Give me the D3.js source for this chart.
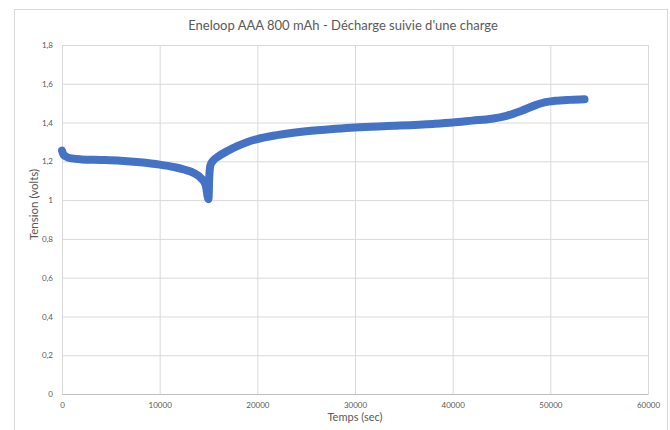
<!DOCTYPE html>
<html>
<head>
<meta charset="utf-8">
<script src="https://cdn.jsdelivr.net/npm/d3@7"></script>
<style>
  body { margin: 0; background: #fff; }
  text { font-family: Lato, 'Open Sans', sans-serif; fill: #595959; }
</style>
</head>
<body>
<svg id="area" width="670" height="430"></svg>
<script>
// temps (sec) / tension (volts)
const temps = [0, 150, 400, 1000, 2000, 4000, 6000, 8000, 10000, 11500, 12500, 13500,
  14200, 14700, 15000, 15080, 15200, 15500, 16000, 17000, 18000, 19000, 20000, 22000,
  25000, 28000, 30000, 34000, 38000, 40000, 42000, 44000, 45500, 47000, 48500, 49500,
  50500, 52000, 53500];
const tension = [1.255, 1.235, 1.225, 1.215, 1.21, 1.207, 1.203, 1.195, 1.183, 1.17, 1.158, 1.14,
  1.115, 1.08, 1.005, 1.12, 1.18, 1.205, 1.225, 1.255, 1.28, 1.3, 1.315, 1.335,
  1.355, 1.368, 1.375, 1.383, 1.393, 1.4, 1.41, 1.42, 1.435, 1.46, 1.49, 1.505,
  1.512, 1.517, 1.52];
const xTicks = [0, 10000, 20000, 30000, 40000, 50000, 60000];
const yTicks = [0, 0.2, 0.4, 0.6, 0.8, 1, 1.2, 1.4, 1.6, 1.8];

const data = temps.map((t, i) => ({ t, v: tension[i] }));

const margin = { top: 45, left: 62, right: 22, bottom: 36 };
const width = 670 - margin.left - margin.right;
const height = 430 - margin.top - margin.bottom;

const svg = d3.select('#area');

// cadre du graphique
svg.append('rect')
  .attr('x', 14.5)
  .attr('y', 9.5)
  .attr('width', 653)
  .attr('height', 440)
  .attr('fill', 'none')
  .attr('stroke', '#d9d9d9');

const x = d3.scaleLinear().domain([0, 60000]).range([margin.left, margin.left + width]);
const y = d3.scaleLinear().domain([0, 1.8]).range([margin.top + height, margin.top]);

const fmt = (d) => d3.format('.1~f')(d).replace('.', ',');

// grille
svg.append('g')
  .attr('class', 'x grid')
  .attr('transform', `translate(0, ${margin.top + height})`)
  .call(d3.axisBottom(x).tickValues(xTicks).tickSize(-height).tickFormat(''))
  .call((g) => g.select('.domain').remove())
  .selectAll('line')
  .attr('stroke', '#d9d9d9');

svg.append('g')
  .attr('class', 'y grid')
  .attr('transform', `translate(${margin.left}, 0)`)
  .call(d3.axisLeft(y).tickValues(yTicks).tickSize(-width).tickFormat(''))
  .call((g) => g.select('.domain').remove())
  .selectAll('line')
  .attr('stroke', '#d9d9d9');

// axes
const xAxis = svg.append('g')
  .attr('class', 'x axis')
  .attr('transform', `translate(0, ${margin.top + height})`)
  .call(d3.axisBottom(x).tickValues(xTicks).tickSize(0).tickPadding(8).tickFormat(d3.format('d')));
xAxis.select('.domain').attr('stroke', '#bfbfbf');
xAxis.selectAll('text').style('font-size', '8px').attr('fill', '#595959');

const yAxis = svg.append('g')
  .attr('class', 'y axis')
  .attr('transform', `translate(${margin.left}, 0)`)
  .call(d3.axisLeft(y).tickValues(yTicks).tickSize(0).tickPadding(9).tickFormat(fmt));
yAxis.select('.domain').remove();
yAxis.selectAll('text').style('font-size', '8px').attr('fill', '#595959');

// courbe
const line = d3.line()
  .x((d) => x(d.t))
  .y((d) => y(d.v))
  .curve(d3.curveMonotoneX);

svg.append('path')
  .datum(data)
  .attr('d', line)
  .attr('fill', 'none')
  .attr('stroke', '#4472c4')
  .attr('stroke-width', 8)
  .attr('stroke-linecap', 'round')
  .attr('stroke-linejoin', 'round');

// titres
svg.append('text')
  .attr('x', 343)
  .attr('y', 30)
  .attr('text-anchor', 'middle')
  .style('font-size', '13px')
  .text("Eneloop AAA 800 mAh - Décharge suivie d'une charge");

svg.append('text')
  .attr('x', 355)
  .attr('y', 421)
  .attr('text-anchor', 'middle')
  .style('font-size', '11px')
  .text('Temps (sec)');

svg.append('text')
  .attr('transform', `translate(38, ${margin.top + height / 2 - 15}) rotate(-90)`)
  .attr('text-anchor', 'middle')
  .style('font-size', '11.5px')
  .text('Tension (volts)');
</script>
</body>
</html>
